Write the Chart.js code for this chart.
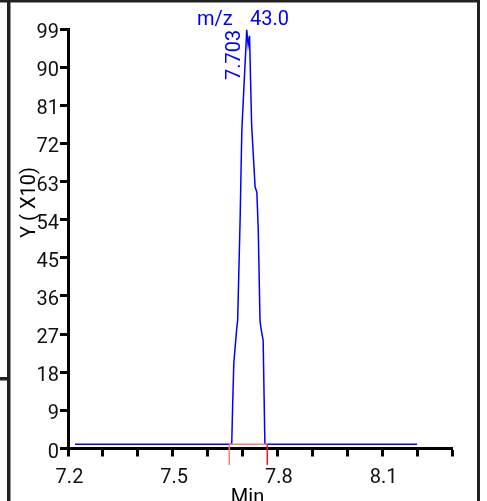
<!DOCTYPE html>
<html>
<head>
<meta charset="utf-8">
<script src="https://cdn.jsdelivr.net/npm/chart.js@4.4.0/dist/chart.umd.min.js"></script>
<style>
  html, body { margin: 0; padding: 0; background: #fff; }
  #chart { display: block; }
</style>
</head>
<body>
<canvas id="chart" width="487" height="501"></canvas>
<script>
// m/z 43.0 ion trace: retention time (min) and intensity (Y x10)
const traceTime = [7.22, 7.669, 7.672, 7.675, 7.683, 7.686, 7.693, 7.698, 7.712, 7.716, 7.720, 7.726, 7.736, 7.741, 7.745, 7.750, 7.752, 7.756, 7.759, 7.764, 8.20]
const traceInt = [1, 1, 11.4, 20.2, 28.0, 30.3, 53.9, 75.2, 98.8, 95.2, 97.4, 76.4, 61.7, 60.5, 51.6, 30.3, 28.9, 26.8, 25.6, 1, 1]

// integration baseline marks (start / end of the peak)
const integTime = [7.662, 7.662, 7.771, 7.771]
const integInt = [-3.9, 1, 1, -3.9]

// labelled x ticks, others only get a tick mark
const xTickLabels = ['7.2', '7.5', '7.8', '8.1']

const massLabel = ['m/z', '43.0']
const peakLabel = '7.703'
const yTitle = 'Y ( X10)'
const xTitle = 'Min'

const FONT = 'Roboto'

// frame around the plot and the free text labels
const framePlugin = {
  id: 'frame',
  afterDraw(chart) {
    const ctx = chart.ctx
    ctx.save()
    ctx.fillStyle = '#222'
    ctx.fillRect(0, 0, 480, 2.5)
    ctx.fillRect(7, 0, 3.5, 501)
    ctx.fillRect(477, 0, 3, 501)
    ctx.fillRect(0, 377, 8, 3.5)

    ctx.font = `20px ${FONT}`
    ctx.textBaseline = 'alphabetic'

    // m/z header
    ctx.fillStyle = '#0000ff'
    ctx.textAlign = 'left'
    ctx.fillText(massLabel[0], 197, 25)
    ctx.fillText(massLabel[1], 250, 25)

    // retention time of the peak, written upward
    ctx.save()
    ctx.translate(240, 80)
    ctx.rotate(-Math.PI / 2)
    ctx.fillText(peakLabel, 0, 0)
    ctx.restore()

    // axis titles
    ctx.fillStyle = '#000'
    ctx.save()
    ctx.translate(35, 202.5)
    ctx.rotate(-Math.PI / 2)
    ctx.textAlign = 'center'
    ctx.fillText(yTitle, 0, 0)
    ctx.restore()

    ctx.textAlign = 'center'
    ctx.fillText(xTitle, 247.5, 502.5)
    ctx.restore()
  }
}

const ctx = document.getElementById('chart').getContext('2d')
new Chart(ctx, {
  type: 'line',
  data: {
    datasets: [
      {
        data: integTime.map((t, i) => ({ x: t, y: integInt[i] })),
        borderColor: '#ff7878',
        borderWidth: 1.5,
        pointRadius: 0,
        clip: false,
        order: 0,
        segment: {
          borderColor: c => (c.p1DataIndex === 3 ? '#ff1010' : undefined),
        },
      },
      {
        data: traceTime.map((t, i) => ({ x: t, y: traceInt[i] })),
        borderColor: '#0000ff',
        borderWidth: 1.5,
        pointRadius: 0,
        tension: 0,
        order: 1,
      },
    ],
  },
  options: {
    responsive: false,
    animation: false,
    plugins: {
      legend: { display: false },
      tooltip: { enabled: false },
    },
    layout: {
      padding: { left: 0, top: 29, right: 35, bottom: 0 },
    },
    scales: {
      x: {
        type: 'linear',
        min: 7.2,
        max: 8.3,
        afterFit: scale => {
          scale.height = 52.5
        },
        border: { color: '#000', width: 3 },
        grid: {
          drawOnChartArea: false,
          tickLength: 8,
          tickColor: '#000',
          tickWidth: 3,
        },
        ticks: {
          stepSize: 0.1,
          autoSkip: false,
          maxRotation: 0,
          padding: 9,
          labelOffset: 1.5,
          color: '#111',
          font: { family: FONT, size: 20 },
          callback: value => {
            const t = Number(value).toFixed(1)
            return xTickLabels.includes(t) ? t : ''
          },
        },
      },
      y: {
        min: 0,
        max: 99,
        afterFit: scale => {
          scale.width = 68
        },
        border: { color: '#000', width: 3 },
        grid: {
          drawOnChartArea: false,
          tickLength: 8,
          tickColor: '#000',
          tickWidth: 3,
        },
        ticks: {
          stepSize: 9,
          padding: 1,
          labelOffset: 4,
          color: '#111',
          font: { family: FONT, size: 20 },
        },
      },
    },
  },
  plugins: [framePlugin],
})
</script>
</body>
</html>
